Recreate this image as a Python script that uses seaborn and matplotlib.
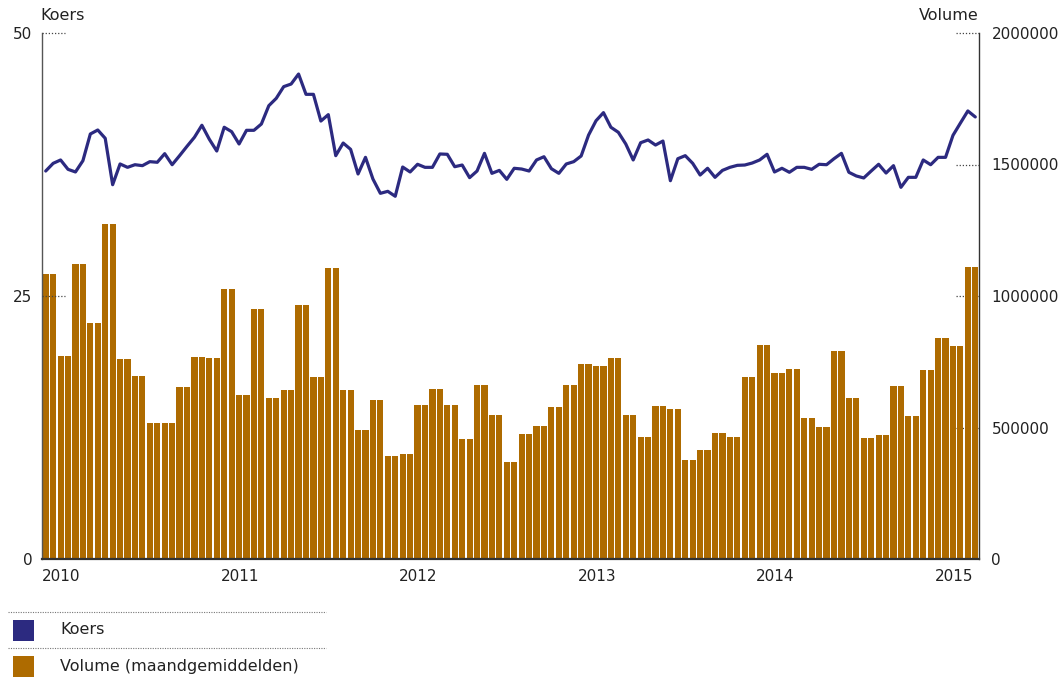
import numpy as np
import pandas as pd
import seaborn as sns
import matplotlib.pyplot as plt
from matplotlib.patches import Rectangle
from matplotlib.lines import Line2D

# --- DATA ---
jaren = ['2010', '2011', '2012', '2013', '2014', '2015']

# maandgemiddelden volume, jan 2010 - mrt 2015
volume_maand = [1084000, 772000, 1122000, 897000, 1274000, 760000, 696000, 517000, 517000, 654000, 768000, 764000,
                1027000, 624000, 951000, 612000, 643000, 966000, 692000, 1106000, 643000, 490000, 605000, 392000,
                399000, 586000, 646000, 586000, 456000, 662000, 548000, 369000, 475000, 506000, 578000, 662000,
                741000, 734000, 764000, 548000, 464000, 582000, 570000, 376000, 414000, 479000, 464000, 692000,
                814000, 707000, 722000, 536000, 502000, 791000, 612000, 460000, 471000, 658000, 544000, 719000,
                840000, 810000, 1110000]

# koers per halve maand
koers = [36.88, 37.61, 37.93, 37.04, 36.79, 37.86, 40.40, 40.78, 39.99, 35.58, 37.55, 37.23, 37.48, 37.39,
         37.77, 37.71, 38.53, 37.48, 38.34, 39.23, 40.09, 41.23, 39.90, 38.78, 41.04, 40.62, 39.45, 40.75,
         40.75, 41.35, 43.09, 43.79,
         44.90, 45.15, 46.10, 44.17, 44.17, 41.63, 42.24, 38.34, 39.54, 38.94, 36.60, 38.18, 36.12, 34.76,
         34.95, 34.48, 37.26, 36.79, 37.52, 37.23, 37.23, 38.50, 38.47, 37.29, 37.45, 36.25, 36.88, 38.56,
         36.66, 36.94, 36.09,
         37.14, 37.07, 36.88, 37.93, 38.24, 37.10, 36.66, 37.55, 37.77, 38.31, 40.30, 41.66, 42.43, 41.04,
         40.56, 39.45, 37.93, 39.57, 39.83, 39.35, 39.73, 35.96, 38.05, 38.34, 37.61, 36.50, 37.14, 36.28,
         36.94, 37.23, 37.42, 37.45,
         37.64, 37.93, 38.47, 36.79, 37.14, 36.76, 37.23, 37.23, 37.04, 37.52, 37.48, 38.05, 38.56, 36.76,
         36.41, 36.22, 36.88, 37.52, 36.69, 37.39, 35.33, 36.28, 36.28, 37.93, 37.48, 38.18, 38.18, 40.27,
         41.44, 42.59, 42.02]

koers_ticks = [0, 25, 50]
koers_labels = ['0', '25', '50']
volume_ticks = [0, 500000, 1000000, 1500000, 2000000]
volume_labels = ['0', '500000', '1000000', '1500000', '2000000']

LINE_COLOR = '#2C2A80'
BAR_COLOR = '#AE6B00'
TEXT_COLOR = '#222222'
AXIS_COLOR = '#333333'

W, H = 1062, 681


def fx(px):
    return px / W


def fy(py):
    return 1 - py / H


df = pd.DataFrame({
    'halve_maand': np.arange(len(koers)),
    'koers': koers,
    'volume': np.repeat(volume_maand, 2),
})

sns.set_theme(style='white')
plt.rcParams['font.family'] = ['DejaVu Sans']

fig, ax = plt.subplots(figsize=(W / 100, H / 100), dpi=100)
fig.subplots_adjust(left=fx(42), right=fx(979), top=fy(33), bottom=fy(559))
ax2 = ax.twinx()

sns.barplot(data=df, x='halve_maand', y='volume', ax=ax2, native_scale=True,
            color=BAR_COLOR, saturation=1, width=0.83, errorbar=None, linewidth=0)
sns.lineplot(data=df, x='halve_maand', y='koers', ax=ax, color=LINE_COLOR, lw=2.3)

# lijn boven de staven
ax.set_zorder(ax2.get_zorder() + 1)
ax.patch.set_visible(False)

ax.set_xlim(-0.5, len(koers) - 0.5)
ax.set_ylim(0, 50)
ax2.set_ylim(0, 2000000)

ax.set_xticks([24 * k - 0.5 for k in range(len(jaren))])
ax.set_xticklabels(jaren, ha='left')
ax.set_yticks(koers_ticks)
ax.set_yticklabels(koers_labels)
ax2.set_yticks(volume_ticks)
ax2.set_yticklabels(volume_labels)

ax.tick_params(axis='x', length=0, pad=7, labelsize=11, labelcolor=TEXT_COLOR)
ax.tick_params(axis='y', length=0, pad=7, labelsize=11, labelcolor=TEXT_COLOR)
ax2.tick_params(axis='y', length=0, pad=9, labelsize=11, labelcolor=TEXT_COLOR)

for a in (ax, ax2):
    a.set_xlabel('')
    a.set_ylabel('')
    a.grid(False)
    a.spines['top'].set_visible(False)
ax.spines['right'].set_visible(False)
ax2.spines['left'].set_visible(False)
ax2.spines['bottom'].set_visible(False)
ax.spines['left'].set_color('#555555')
ax.spines['left'].set_linewidth(1.0)
ax.spines['bottom'].set_color(AXIS_COLOR)
ax.spines['bottom'].set_linewidth(1.6)
ax2.spines['right'].set_color(AXIS_COLOR)
ax2.spines['right'].set_linewidth(1.0)

# gestippelde tickstreepjes
for v in koers_ticks[1:]:
    ax.plot([0, 0.0245], [v, v], transform=ax.get_yaxis_transform(), color='#444444',
            lw=0.9, ls=(0, (1, 1.5)), clip_on=False, zorder=5)
for v in volume_ticks[1:]:
    ax2.plot([0.9755, 1], [v, v], transform=ax2.get_yaxis_transform(), color='#444444',
             lw=0.9, ls=(0, (1, 1.5)), clip_on=False, zorder=0)

# as-titels
fig.text(fx(40), fy(16), 'Koers', ha='left', va='center', fontsize=11.5, color=TEXT_COLOR)
fig.text(fx(979), fy(16), 'Volume', ha='right', va='center', fontsize=11.5, color=TEXT_COLOR)

# legenda
for y in (612, 648):
    fig.add_artist(Line2D([fx(8), fx(326)], [fy(y), fy(y)], transform=fig.transFigure,
                          color='#777777', lw=0.8, ls=(0, (1, 1.2))))
legend_items = [('Koers', LINE_COLOR, 630), ('Volume (maandgemiddelden)', BAR_COLOR, 666)]
for label, color, yc in legend_items:
    fig.add_artist(Rectangle((fx(13), fy(yc + 10.5)), fx(21), 21 / H, transform=fig.transFigure,
                             facecolor=color, edgecolor='none'))
    fig.text(fx(60), fy(yc), label, ha='left', va='center', fontsize=11.5, color=TEXT_COLOR)

fig.savefig('out.png', dpi=100, facecolor='white')
